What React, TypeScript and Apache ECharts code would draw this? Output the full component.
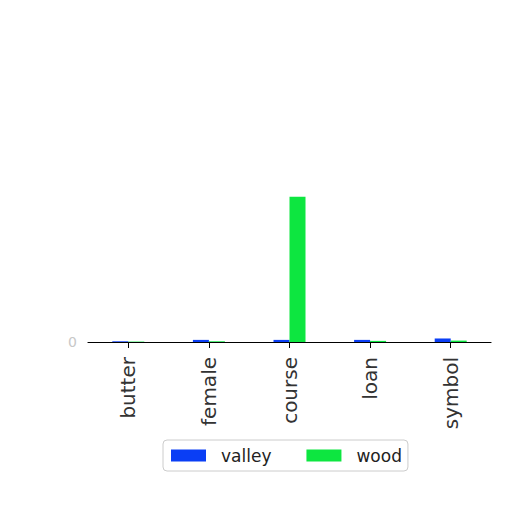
import React, { useEffect, useRef } from 'react';
import * as echarts from 'echarts';

const categories = ['butter', 'female', 'course', 'loan', 'symbol'];
const valleyValues = [0.5, 1.5, 1.5, 1.5, 2.5];
const woodValues = [0.3, 0.5, 103, 0.8, 1];
const seriesNames = ['valley', 'wood'];
const seriesColors = ['#0a3ef5', '#0de640'];

export default function App() {
  const chartRef = useRef<HTMLDivElement>(null);

  useEffect(() => {
    const chart = echarts.init(chartRef.current, null, { renderer: 'svg' });
    const font = 'DejaVu Sans';

    const option = {
      animation: false,
      backgroundColor: '#fff',
      grid: { left: 88, right: 21, top: 60, bottom: 170 },
      legend: {
        data: seriesNames,
        left: 163,
        top: 440,
        orient: 'horizontal',
        itemWidth: 35,
        itemHeight: 12,
        itemGap: 35,
        borderColor: '#cccccc',
        borderWidth: 1,
        borderRadius: 4,
        padding: [7, 6, 7, 8],
        icon: 'rect',
        textStyle: { fontFamily: font, fontSize: 17, color: '#222', padding: [0, 0, 0, 10] },
      },
      xAxis: {
        type: 'category',
        data: categories,
        axisLine: { show: true, lineStyle: { color: '#000', width: 1.2 } },
        axisTick: { show: true, alignWithLabel: true, length: 6, lineStyle: { color: '#000' } },
        axisLabel: { rotate: 90, fontFamily: font, fontSize: 20, color: '#333', margin: 15 },
      },
      yAxis: {
        type: 'value',
        min: 0,
        max: 200,
        interval: 200,
        axisLine: { show: false },
        axisTick: { show: false },
        splitLine: { show: false },
        axisLabel: {
          fontFamily: font,
          fontSize: 14,
          color: '#c8c8c8',
          margin: 11,
          formatter: (v: number) => (v === 0 ? '0' : ''),
        },
      },
      series: [
        {
          name: seriesNames[0],
          type: 'bar',
          data: valleyValues,
          barWidth: 16,
          barGap: '0%',
          itemStyle: { color: seriesColors[0] },
        },
        {
          name: seriesNames[1],
          type: 'bar',
          data: woodValues,
          barWidth: 16,
          barGap: '0%',
          itemStyle: { color: seriesColors[1] },
        },
      ],
    };

    chart.setOption(option);
    return () => {
      chart.dispose();
    };
  }, []);

  return (
    <div
      ref={chartRef}
      style={{ position: 'fixed', left: 0, top: 0, width: '512px', height: '512px' }}
    />
  );
}
